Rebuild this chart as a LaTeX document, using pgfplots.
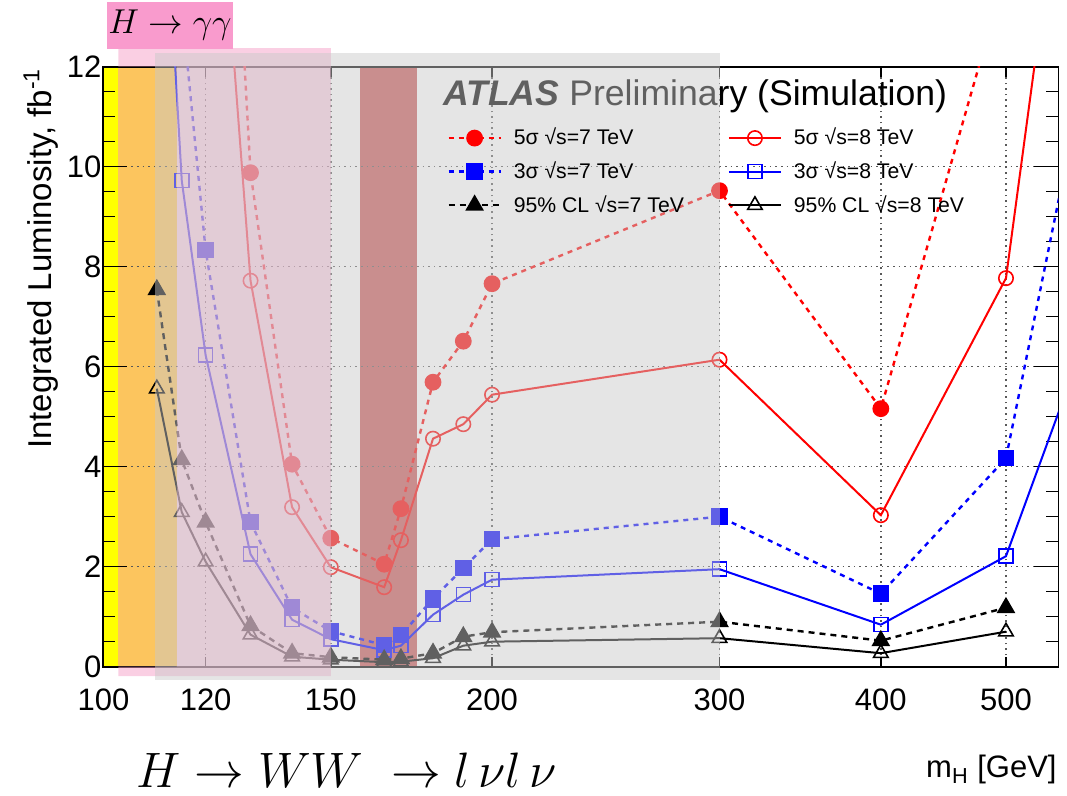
\documentclass[border=0pt]{standalone}
\usepackage{fontspec}
\setmainfont{Liberation Sans}
\usepackage{pgfplots}
\pgfplotsset{compat=1.18}
\definecolor{rootred}{RGB}{255,0,0}
\definecolor{rootblue}{RGB}{0,0,255}
\definecolor{bandyellow}{RGB}{255,255,0}
\definecolor{bandorange}{RGB}{252,197,94}
\definecolor{banddark}{RGB}{201,89,89}
\definecolor{pinkov}{RGB}{245,160,200}
\definecolor{grayov}{RGB}{201,201,201}
\definecolor{pinkbox}{RGB}{249,155,205}

\begin{document}
\begin{tikzpicture}
\begin{axis}[
  at={(0pt,0pt)}, anchor=south west,
  scale only axis, width=477.5pt, height=300pt,
  set layers,
  xmode=log, xmin=100, xmax=549, ymin=0, ymax=12,
  xtick={100,120,150,200,300,400,500},
  xticklabels={100,120,150,200,300,400,500},
  ytick={0,2,4,6,8,10,12},
  yticklabels={0,2,4,6,8,10,12},
  minor y tick num=3,
  tick align=inside,
  xtick style={/pgfplots/major tick length=5pt, black, line width=0.8pt},
  ytick style={/pgfplots/major tick length=12pt, /pgfplots/minor tick length=6pt, black, line width=0.8pt},
  axis line style={black, line width=0.9pt},
  grid=major,
  major grid style={black!65, line width=0.75pt, dash pattern=on 0.8pt off 2pt},
  tick label style={font=\fontsize{15.5}{18}\selectfont},
  xticklabel style={yshift=-7.5pt},
  yticklabel style={xshift=2.5pt},
  clip mode=individual, clip marker paths=true,
  legend columns=2, legend cell align=left,
  legend style={at={(0.3598,0.9048)}, anchor=north west, draw=none, fill=none,
    inner sep=0pt, font=\fontsize{10.6}{12.5}\selectfont, row sep=2.9pt,
    /tikz/every odd column/.append style={column sep=4pt},
    /tikz/every even column/.append style={column sep=20pt}},
  legend image code/.code={\draw[mark repeat=2,mark phase=2,#1] plot coordinates {(0pt,0pt) (13pt,0pt) (26pt,0pt)};},
]
\begin{pgfonlayer}{axis background}
\fill[bandyellow] (axis cs:100,0) rectangle (axis cs:102.7,12);
\fill[bandorange] (axis cs:102.7,0) rectangle (axis cs:114,12);
\fill[banddark] (axis cs:158,0) rectangle (axis cs:175,12);
\end{pgfonlayer}

% 5 sigma 7 TeV
\addplot[rootred, line width=1.2pt, dash pattern=on 2.5pt off 2.5pt, mark=*, mark size=3.6pt,
  mark options={solid, fill=rootred, draw=rootred}] coordinates {
(120,26) (130,9.88) (140,4.05) (150,2.57) (165,2.05) (170,3.16) (180,5.69) (190,6.51) (200,7.66) (300,9.52) (400,5.16) (500,13.9)};
\addlegendentry{5σ √s=7 TeV}
% 5 sigma 8 TeV
\addplot[rootred, line width=1pt, mark=o, mark size=3.6pt, mark options={solid, line width=0.8pt}] coordinates {
(120,19.6) (130,7.72) (140,3.19) (150,1.99) (165,1.59) (170,2.53) (180,4.56) (190,4.85) (200,5.44) (300,6.14) (400,3.03) (500,7.77) (600,23)};
\addlegendentry{5σ √s=8 TeV}
% 3 sigma 7 TeV
\addplot[rootblue, line width=1.2pt, dash pattern=on 2.5pt off 2.5pt, mark=square*, mark size=3.5pt,
  mark options={solid, fill=rootblue, draw=rootblue}] coordinates {
(115,13.2) (120,8.33) (130,2.89) (140,1.18) (150,0.71) (165,0.43) (170,0.63) (180,1.36) (190,1.97) (200,2.55) (300,3.0) (400,1.46) (500,4.17) (600,14.2)};
\addlegendentry{3σ √s=7 TeV}
% 3 sigma 8 TeV
\addplot[rootblue, line width=1pt, mark=square, mark size=3.5pt, mark options={solid, line width=0.8pt}] coordinates {
(110,18.4) (115,9.72) (120,6.23) (130,2.25) (140,0.94) (150,0.55) (165,0.33) (170,0.42) (180,1.04) (190,1.44) (200,1.74) (300,1.95) (400,0.84) (500,2.21) (600,7.8)};
\addlegendentry{3σ √s=8 TeV}
% 95% CL 7 TeV
\addplot[black, line width=1.2pt, dash pattern=on 3pt off 2.5pt, mark=triangle*, mark size=4.2pt,
  mark options={solid, fill=black}] coordinates {
(110,7.54) (115,4.14) (120,2.89) (130,0.82) (140,0.27) (150,0.19) (165,0.14) (170,0.16) (180,0.27) (190,0.60) (200,0.69) (300,0.90) (400,0.52) (500,1.18)};
\addlegendentry{95\% CL √s=7 TeV}
% 95% CL 8 TeV
\addplot[black, line width=1pt, mark=triangle, mark size=4.2pt, mark options={solid, line width=0.8pt}] coordinates {
(110,5.56) (115,3.09) (120,2.10) (130,0.64) (140,0.20) (150,0.14) (165,0.09) (170,0.10) (180,0.17) (190,0.42) (200,0.50) (300,0.57) (400,0.27) (500,0.70)};
\addlegendentry{95\% CL √s=8 TeV}

\node[anchor=base west, inner sep=0pt, font=\fontsize{17.8}{21}\selectfont] at (rel axis cs:0.3556,0.9345)
  {\textbf{\textit{ATLAS}} Preliminary (Simulation)};

\coordinate (pkA) at (axis cs:102.7,12);
\coordinate (pkB) at (axis cs:150,12.37);
\coordinate (pkC) at (axis cs:102.7,-0.19);
\coordinate (pkD) at (axis cs:150,0);
\coordinate (pkE) at (axis cs:114,0);
\coordinate (pkF) at (axis cs:150,12);
\coordinate (grA) at (axis cs:109.6,-0.27);
\coordinate (grB) at (axis cs:300,12.27);
\end{axis}

\fill[pinkov, fill opacity=0.5] (pkA) rectangle (pkB) (pkC) rectangle (pkD) (pkE) rectangle (pkF);
\fill[grayov, fill opacity=0.48] (grA) rectangle (grB);

\node[anchor=base east, inner sep=0pt, font=\fontsize{15.5}{18}\selectfont] at (476.8pt,-55.65pt) {m\textsubscript{H} [GeV]};
\node[rotate=90, anchor=base east, inner sep=0pt, font=\fontsize{16.5}{20}\selectfont] at (-25.7pt,299.4pt) {Integrated Luminosity, fb\textsuperscript{-1}};
\node[anchor=base west, inner sep=0pt, font=\fontsize{25}{30}\selectfont] at (16.3pt,-60.2pt) {$H \rightarrow WW \;\rightarrow l\,\nu l\,\nu$};
\fill[pinkbox] (1.8pt,308.85pt) rectangle (64.8pt,332.35pt);
\node[inner sep=0pt, font=\fontsize{16.5}{20}\selectfont] at (33.3pt,320.6pt) {$H\rightarrow\gamma\gamma$};

\pgfresetboundingbox
\useasboundingbox (-51.7pt,-64.65pt) rectangle (481.8pt,333.35pt);
\end{tikzpicture}
\end{document}
